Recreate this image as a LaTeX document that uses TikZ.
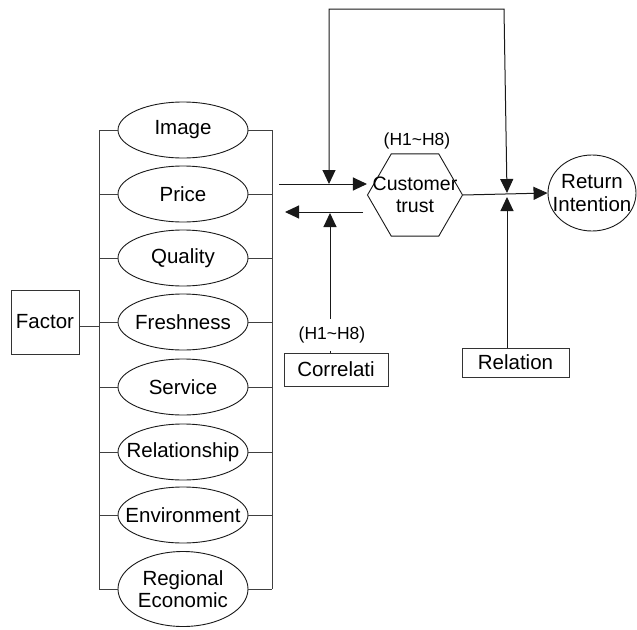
\documentclass[tikz,border=0pt]{standalone}
\usepackage{fontspec}
\setmainfont{Liberation Sans}
\usetikzlibrary{shapes.geometric,arrows.meta}
\newcommand{\mainf}{\fontsize{20.5}{22.5}\selectfont}
\newcommand{\smallf}{\fontsize{17.5}{19}\selectfont}
\tikzset{
  ln/.style={line width=1pt, draw=black!75},
  elli/.style={ellipse, draw=black!90, line width=0.9pt, minimum width=130pt, minimum height=56pt, inner sep=0pt},
  boxn/.style={rectangle, draw=black!80, line width=1pt, inner sep=0pt, font=\mainf},
  arr/.style={ln, draw=black!90, -{Triangle[length=14pt,width=13pt]}},
  arrb/.style={ln, draw=black!90, {Triangle[length=14pt,width=13pt]}-{Triangle[length=14pt,width=13pt]}},
  lab/.style={font=\mainf, align=center, inner sep=0pt},
}
\begin{document}
\begin{tikzpicture}[x=1pt,y=-1pt]
\useasboundingbox (0,0) rectangle (637,629);
% factor ellipses
\node[elli, label={[lab]center:Image}] (e1) at (183,130) {};
\node[elli, label={[lab]center:Price}] (e2) at (183,194) {};
\node[elli, label={[lab]center:Quality}] (e3) at (183,258) {};
\node[elli, label={[lab]center:Freshness}] (e4) at (183,322) {};
\node[elli, label={[lab]center:Service}] (e5) at (183,387) {};
\node[elli, label={[lab]center:Relationship}] (e6) at (183,452) {};
\node[elli, label={[lab]center:Environment}] (e7) at (183,515) {};
\node[elli, minimum height=75pt, label={[lab]center:Regional\\Economic}] (e8) at (183,589) {};
% brackets
\coordinate (bl1) at (99,130);
\coordinate (bl8) at (99,589);
\coordinate (br1) at (272,130);
\coordinate (br8) at (272,589);
\draw[ln] (bl1) -- (bl8);
\draw[ln] (br1) -- (br8);
\foreach \i in {1,...,8}{
  \draw[ln] (e\i.west -| bl1) -- (e\i.west);
  \draw[ln] (e\i.east) -- (e\i.east -| br1);
}
% Factor box
\node[boxn, minimum width=68pt, minimum height=64pt] (factor) at (45,322) {Factor};
\draw[ln] ([yshift=-4pt]factor.east) -- ([yshift=-4pt]factor.east -| bl1);
% Customer trust hexagon
\node[regular polygon, regular polygon sides=6, minimum size=95pt, draw=black!90, line width=0.9pt, inner sep=0pt] (trust) at (415,195) {};
\node[lab, font=\fontsize{19.5}{21.5}\selectfont] (trusttxt) at (trust.center) {Customer\\trust};
\node[font=\smallf, inner sep=0pt] (h1) at (417,141) {(H1\textasciitilde H8)};
% Return Intention
\node[elli, minimum width=88pt, minimum height=76pt, label={[lab]center:Return\\Intention}] (ret) at (592,193) {};
% Correlati / Relation boxes
\node[boxn, minimum width=104pt, minimum height=33pt] (corr) at (336,369.5) {Correlati};
\node[boxn, minimum width=107pt, minimum height=29pt] (rel) at (515.5,362.5) {Relation};
% arrows
\coordinate (pa) at (279,184);
\draw[arr] (pa) -- (pa -| trust.west);
\coordinate (pb) at (363,212);
\coordinate (pbe) at (285,212);
\draw[arr] (pb) -- (pbe);
\coordinate (cL) at (329,184);
\coordinate (tl) at (329,9);
\coordinate (tr) at (504,9);
\coordinate (cR) at (507,193);
\draw[arrb] (cL) -- (tl) -- (tr) -- (cR);
\draw[arr] (trust.east) -- (ret.west);
\coordinate (cu) at (330,213);
\draw[arr] (corr.north -| cu) -- (cu);
\node[font=\smallf, fill=white, inner xsep=2pt, inner ysep=8pt] (h2) at (332,335) {(H1\textasciitilde H8)};
\coordinate (ru) at (507,197);
\draw[arr] (rel.north -| ru) -- (ru);
\end{tikzpicture}
\end{document}
